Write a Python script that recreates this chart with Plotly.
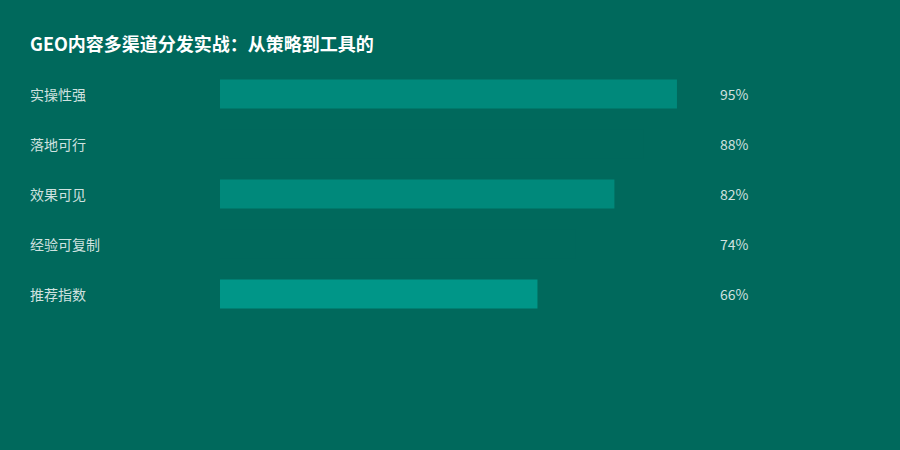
import plotly.graph_objects as go

categories = ["实操性强", "落地可行", "效果可见", "经验可复制", "推荐指数"]
scores = [95, 88, 82, 74, 66]
bar_colors = ["#00897B", "#00695C", "#00897B", "#00695C", "#009688"]
title_text = "GEO内容多渠道分发实战：从策略到工具的"

bg = "#00695C"
label_color = "rgba(255,255,255,0.82)"
font_family = "Noto Sans CJK SC, Noto Sans, sans-serif"

fig = go.Figure(
    go.Bar(
        x=scores,
        y=categories,
        orientation="h",
        marker=dict(color=bar_colors, line=dict(width=0)),
        width=0.58,
        hoverinfo="skip",
    )
)

# category names on the left, values on the right
for cat, val in zip(categories, scores):
    fig.add_annotation(x=30 / 900, xref="paper", y=cat, yref="y", text=cat,
                       showarrow=False, xanchor="left", yanchor="middle", xshift=-2,
                       font=dict(size=14, color=label_color))
    fig.add_annotation(x=720 / 900, xref="paper", y=cat, yref="y", text=f"{val}%",
                       showarrow=False, xanchor="left", yanchor="middle", xshift=-2,
                       font=dict(size=14, color=label_color))

fig.update_layout(
    width=900,
    height=450,
    paper_bgcolor=bg,
    plot_bgcolor=bg,
    font=dict(family=font_family, color=label_color),
    margin=dict(l=0, r=0, t=69, b=131),
    showlegend=False,
    title=dict(text=f"<b>{title_text}</b>", x=30 / 900, xanchor="left",
               y=1 - 45 / 450, yref="container", yanchor="middle",
               font=dict(size=18, color="white")),
    xaxis=dict(domain=[220 / 900, 701 / 900], range=[0, 100], visible=False),
    yaxis=dict(autorange=False, range=[4.5, -0.5], visible=False),
)

fig.write_html("out.html", config={"displayModeBar": False},
               post_script="document.body.style.margin='0';")
